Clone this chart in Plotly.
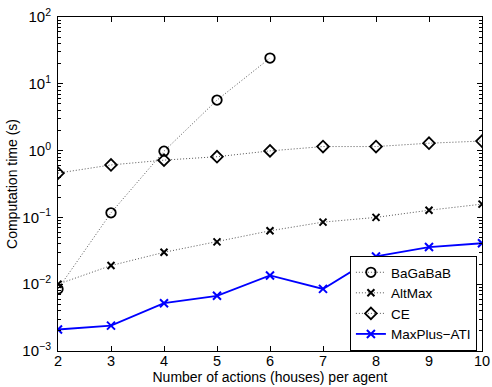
import plotly.graph_objects as go

# Number of actions per agent
actions = [2, 3, 4, 5, 6, 7, 8, 9, 10]

# Computation time (s) per method
bagabab = [0.0085, 0.117, 0.98, 5.7, 24.3]
altmax = [0.010, 0.019, 0.030, 0.043, 0.063, 0.085, 0.10, 0.128, 0.158]
ce = [0.46, 0.61, 0.72, 0.81, 0.99, 1.15, 1.15, 1.29, 1.39]
maxplus_ati = [0.0021, 0.0024, 0.0052, 0.0067, 0.0135, 0.0085, 0.026, 0.036, 0.041]

y_tickvals = [1e-3, 1e-2, 1e-1, 1e0, 1e1, 1e2]
y_ticktext = ["10<sup>\u22123</sup>", "10<sup>\u22122</sup>", "10<sup>\u22121</sup>",
              "10<sup>0</sup>", "10<sup>1</sup>", "10<sup>2</sup>"]
y_minor = [m * d for d in [1e-3, 1e-2, 1e-1, 1e0, 1e1] for m in range(2, 10)]

dot_line = dict(color="#555555", width=1, dash="1px,2px")

fig = go.Figure()
fig.add_trace(go.Scatter(
    x=actions[:len(bagabab)], y=bagabab, name="BaGaBaB", mode="lines+markers",
    line=dot_line,
    marker=dict(symbol="circle-open", size=9.5, color="black", line=dict(width=1.8, color="black")),
))
fig.add_trace(go.Scatter(
    x=actions, y=altmax, name="AltMax", mode="lines+markers",
    line=dot_line,
    marker=dict(symbol="x-thin-open", size=7, color="black", line=dict(width=2, color="black")),
))
fig.add_trace(go.Scatter(
    x=actions, y=ce, name="CE", mode="lines+markers",
    line=dot_line,
    marker=dict(symbol="diamond-open", size=9, color="black", line=dict(width=1.8, color="black")),
))
fig.add_trace(go.Scatter(
    x=actions, y=maxplus_ati, name="MaxPlus\u2212ATI", mode="lines+markers",
    line=dict(color="#0000ff", width=1.8),
    marker=dict(symbol="x-thin-open", size=8, color="#0000ff", line=dict(width=2, color="#0000ff")),
))

font_family = "Liberation Sans, Arial, Helvetica, sans-serif"

fig.update_layout(
    width=492, height=387,
    margin=dict(l=58, r=10, t=17, b=36),
    paper_bgcolor="white", plot_bgcolor="white",
    font=dict(family=font_family, size=14, color="black"),
    showlegend=True,
    legend=dict(
        x=0.988, y=0.0, xanchor="right", yanchor="bottom",
        bgcolor="white", bordercolor="black", borderwidth=1,
        font=dict(size=13.5), tracegroupgap=0, itemsizing="trace",
    ),
    xaxis=dict(
        range=[2, 10], tickvals=actions, ticks="inside", ticklen=5,
        showgrid=False, zeroline=False, showline=True, linecolor="black",
        linewidth=1, mirror="ticks", tickcolor="black", automargin=False,
        ticklabelstandoff=-3,
        title=dict(text="Number of actions (houses) per agent", standoff=0, font=dict(size=14)),
        tickfont=dict(size=14.5),
    ),
    yaxis=dict(
        type="log", range=[-3, 2], tickvals=y_tickvals, ticktext=y_ticktext,
        ticks="inside", ticklen=5, showgrid=False, zeroline=False,
        showline=True, linecolor="black", linewidth=1, mirror="ticks",
        tickcolor="black", automargin=False, ticklabelstandoff=3,
        minor=dict(tickvals=y_minor, ticks="inside", ticklen=3, tickcolor="black", showgrid=False),
        title=dict(text="Computation time (s)", standoff=1, font=dict(size=14)),
        tickfont=dict(size=15),
    ),
)

fig.write_html("out.html")
